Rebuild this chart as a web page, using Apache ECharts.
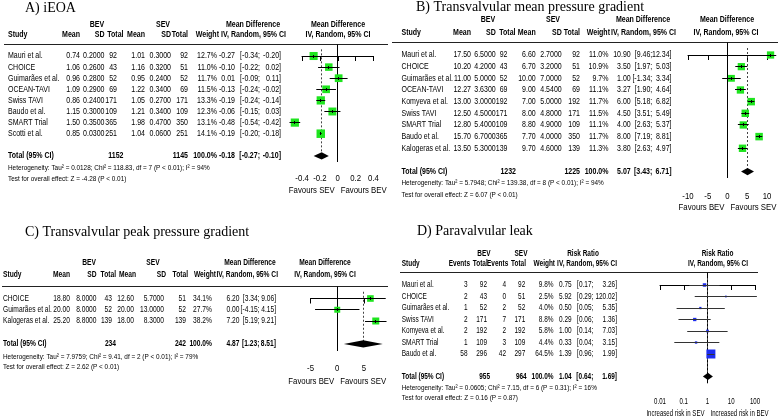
<!DOCTYPE html>
<html lang="en">
<head>
<meta charset="UTF-8">
<title>Forest plots BEV vs SEV</title>
<style>
    html, body { margin: 0; padding: 0; background: #fff; }
    #main { width: 779px; height: 418px; }
</style>
<script src="https://cdn.jsdelivr.net/npm/echarts@6/dist/echarts.min.js"></script>
</head>
<body>
<div id="main"></div>
<script>

// ---------- A) iEOA ----------
var aStudies = ['Mauri et al.', 'CHOICE', 'Guimarães et al.', 'OCEAN-TAVI', 'Swiss TAVI', 'Baudo et al.', 'SMART Trial', 'Scotti et al.'];
var aBevMean = [0.74, 1.06, 0.96, 1.09, 0.86, 1.15, 1.50, 0.85];
var aBevSd = [0.20, 0.26, 0.28, 0.29, 0.24, 0.30, 0.35, 0.03];
var aBevN = [92, 43, 52, 69, 171, 109, 365, 251];
var aSevMean = [1.01, 1.16, 0.95, 1.22, 1.05, 1.21, 1.98, 1.04];
var aSevSd = [0.30, 0.32, 0.24, 0.34, 0.27, 0.34, 0.47, 0.06];
var aSevN = [92, 51, 52, 69, 171, 109, 350, 251];
var aWeight = [12.7, 11.0, 11.7, 11.5, 13.3, 12.3, 13.1, 14.1];
var aMd = [-0.27, -0.10, 0.01, -0.13, -0.19, -0.06, -0.48, -0.19];
var aLo = [-0.34, -0.22, -0.09, -0.24, -0.24, -0.15, -0.54, -0.20];
var aHi = [-0.20, 0.02, 0.11, -0.02, -0.14, 0.03, -0.42, -0.18];
var aTotalN = [1152, 1145];
var aPooled = [-0.18, -0.27, -0.10];
var aTicks = [-0.4, -0.2, 0, 0.2, 0.4];
var aTickLabels = ['-0.4', '-0.2', '0', '0.2', '0.4'];
var aFavours = ['Favours SEV', 'Favours BEV'];
var aHet = 'Heterogeneity: Tau² = 0.0128; Chi² = 118.83, df = 7 (P < 0.01); I² = 94%';
var aTest = 'Test for overall effect: Z = -4.28 (P < 0.01)';

// ---------- B) Transvalvular mean pressure gradient ----------
var bStudies = ['Mauri et al.', 'CHOICE', 'Guimarães et al.', 'OCEAN-TAVI', 'Komyeva et al.', 'Swiss TAVI', 'SMART Trial', 'Baudo et al.', 'Kalogeras et al.'];
var bBevMean = [17.50, 10.20, 11.00, 12.27, 13.00, 12.50, 12.80, 15.70, 13.50];
var bBevSd = [6.50, 4.20, 5.00, 3.63, 3.00, 4.50, 5.40, 6.70, 5.30];
var bBevN = [92, 43, 52, 69, 192, 171, 109, 365, 139];
var bSevMean = [6.60, 6.70, 10.00, 9.00, 7.00, 8.00, 8.80, 7.70, 9.70];
var bSevSd = [2.70, 3.20, 7.00, 4.54, 5.00, 4.80, 4.90, 4.00, 4.60];
var bSevN = [92, 51, 52, 69, 192, 171, 109, 350, 139];
var bWeight = [11.0, 10.9, 9.7, 11.1, 11.7, 11.5, 11.1, 11.7, 11.3];
var bMd = [10.90, 3.50, 1.00, 3.27, 6.00, 4.50, 4.00, 8.00, 3.80];
var bLo = [9.46, 1.97, -1.34, 1.90, 5.18, 3.51, 2.63, 7.19, 2.63];
var bHi = [12.34, 5.03, 3.34, 4.64, 6.82, 5.49, 5.37, 8.81, 4.97];
var bTotalN = [1232, 1225];
var bPooled = [5.07, 3.43, 6.71];
var bTicks = [-10, -5, 0, 5, 10];
var bTickLabels = ['-10', '-5', '0', '5', '10'];
var bFavours = ['Favours BEV', 'Favours SEV'];
var bHet = 'Heterogeneity: Tau² = 5.7948; Chi² = 139.38, df = 8 (P < 0.01); I² = 94%';
var bTest = 'Test for overall effect: Z = 6.07 (P < 0.01)';

// ---------- C) Transvalvular peak pressure gradient ----------
var cStudies = ['CHOICE', 'Guimarães et al.', 'Kalogeras et al.'];
var cBevMean = [18.80, 20.00, 25.20];
var cBevSd = [8.00, 8.00, 8.80];
var cBevN = [43, 52, 139];
var cSevMean = [12.60, 20.00, 18.00];
var cSevSd = [5.70, 13.00, 8.30];
var cSevN = [51, 52, 139];
var cWeight = [34.1, 27.7, 38.2];
var cMd = [6.20, 0.00, 7.20];
var cLo = [3.34, -4.15, 5.19];
var cHi = [9.06, 4.15, 9.21];
var cTotalN = [234, 242];
var cPooled = [4.87, 1.23, 8.51];
var cTicks = [-5, 0, 5];
var cTickLabels = ['-5', '0', '5'];
var cFavours = ['Favours BEV', 'Favours SEV'];
var cHet = 'Heterogeneity: Tau² = 7.9759; Chi² = 9.41, df = 2 (P < 0.01); I² = 79%';
var cTest = 'Test for overall effect: Z = 2.62 (P < 0.01)';

// ---------- D) Paravalvular leak ----------
var dStudies = ['Mauri et al.', 'CHOICE', 'Guimarães et al.', 'Swiss TAVI', 'Komyeva et al.', 'SMART Trial', 'Baudo et al.'];
var dBevEvents = [3, 2, 1, 2, 2, 1, 58];
var dBevN = [92, 43, 52, 171, 192, 109, 296];
var dSevEvents = [4, 0, 2, 7, 2, 3, 42];
var dSevN = [92, 51, 52, 171, 192, 109, 297];
var dWeight = [9.8, 2.5, 4.0, 8.8, 5.8, 4.4, 64.5];
var dRr = [0.75, 5.92, 0.50, 0.29, 1.00, 0.33, 1.39];
var dLo = [0.17, 0.29, 0.05, 0.06, 0.14, 0.04, 0.96];
var dHi = [3.26, 120.02, 5.35, 1.36, 7.03, 3.15, 1.99];
var dTotalN = [955, 964];
var dPooled = [1.04, 0.64, 1.69];
var dTicks = [0.01, 0.1, 1, 10, 100];
var dTickLabels = ['0.01', '0.1', '1', '10', '100'];
var dFavours = ['Increased risk in SEV', 'Increased risk in BEV'];
var dHet = 'Heterogeneity: Tau² = 0.0605; Chi² = 7.15, df = 6 (P = 0.31); I² = 16%';
var dTest = 'Test for overall effect: Z = 0.16 (P = 0.87)';

var FONT = '"Liberation Sans", Arial, sans-serif';
var NORM = '9px ' + FONT;
var BOLD = 'bold 9px ' + FONT;
var SMALL = '8px ' + FONT;
var AXIS = '9.5px ' + FONT;

function mdRows(st, m1, s1, n1, m2, s2, n2, w) {
    return st.map(function (s, i) {
        return [s, m1[i].toFixed(2), s1[i].toFixed(4), n1[i], m2[i].toFixed(2), s2[i].toFixed(4), n2[i], w[i].toFixed(1) + '%'];
    });
}

// sx: horizontal squeeze of table text, axSx: of axis text (the figure is squeezed sideways)
var panels = [
    {
        title: 'A) iEOA', titleX: 25, titleY: 8,
        rows: mdRows(aStudies, aBevMean, aBevSd, aBevN, aSevMean, aSevSd, aSevN, aWeight),
        est: aMd, lo: aLo, hi: aHi, weight: aWeight, totalN: aTotalN, pooled: aPooled,
        ticks: aTicks, tickLabels: aTickLabels, favours: aFavours, het: aHet, test: aTest,
        type: 'value', min: -0.4, max: 0.4, interval: 0.2, nullValue: 0,
        color: '#1ee41e', lineColor: '#000', box: 8.5, cross: true, sx: 0.78, axSx: 0.82,
        x0: 302, x1: 373.5, top: 44, axisY: 162, row0: 56, step: 11.1,
        totalRow: 9, hetRow: 10.05, testRow: 11.05, head1Row: -2.88, head2Row: -1.98,
        tickDy: 16.5, favDy: 28, lineX: [4, 388],
        colX: [8, 80, 104.5, 117, 145, 171, 188, 217], ciX: [235, 260, 281], totX: [123.5, 188],
        head1: [['BEV', 97, 'center'], ['SEV', 163, 'center'], ['Mean Difference', 253, 'center'], ['Mean Difference', 338, 'center']],
        head2: [['Study', 8, 'left'], ['Mean', 80, 'right'], ['SD', 104.5, 'right'], ['Total', 123.5, 'right'], ['Mean', 145, 'right'],
            ['SD', 171, 'right'], ['Total', 188, 'right'], ['Weight', 219, 'right'], ['IV, Random, 95% CI', 286, 'right'], ['IV, Random, 95% CI', 338, 'center']]
    },
    {
        title: 'B) Transvalvular mean pressure gradient', titleX: 416, titleY: 7,
        rows: mdRows(bStudies, bBevMean, bBevSd, bBevN, bSevMean, bSevSd, bSevN, bWeight),
        est: bMd, lo: bLo, hi: bHi, weight: bWeight, totalN: bTotalN, pooled: bPooled,
        ticks: bTicks, tickLabels: bTickLabels, favours: bFavours, het: bHet, test: bTest,
        type: 'value', min: -10, max: 10, interval: 5, nullValue: 0,
        color: '#1ee41e', lineColor: '#000', box: 7.5, cross: true, sx: 0.78, axSx: 0.82,
        x0: 688, x1: 767, top: 42, axisY: 178, row0: 55, step: 11.66,
        totalRow: 10, hetRow: 11, testRow: 11.95, head1Row: -3.06, head2Row: -1.95,
        tickDy: 18.5, favDy: 29, lineX: [392, 778],
        colX: [401.5, 471, 495.7, 507.5, 535.7, 561.7, 580, 608.5], ciX: [630.7, 652.3, 671.5], totX: [516, 580],
        head1: [['BEV', 488, 'center'], ['SEV', 553, 'center'], ['Mean Difference', 643, 'center'], ['Mean Difference', 727, 'center']],
        head2: [['Study', 401.5, 'left'], ['Mean', 471, 'right'], ['SD', 495.7, 'right'], ['Total', 515.5, 'right'], ['Mean', 535.7, 'right'],
            ['SD', 561.7, 'right'], ['Total', 580, 'right'], ['Weight', 610, 'right'], ['IV, Random, 95% CI', 676, 'right'], ['IV, Random, 95% CI', 726, 'center']]
    },
    {
        title: 'C) Transvalvular peak pressure gradient', titleX: 25, titleY: 232,
        rows: mdRows(cStudies, cBevMean, cBevSd, cBevN, cSevMean, cSevSd, cSevN, cWeight),
        est: cMd, lo: cLo, hi: cHi, weight: cWeight, totalN: cTotalN, pooled: cPooled,
        ticks: cTicks, tickLabels: cTickLabels, favours: cFavours, het: cHet, test: cTest,
        type: 'value', min: -5, max: 5, interval: 5, nullValue: 0,
        color: '#1ee41e', lineColor: '#000', box: 7, cross: true, sx: 0.74, axSx: 0.82,
        x0: 310.5, x1: 364, top: 286, axisY: 351, row0: 298.5, step: 11.25,
        totalRow: 4.04, hetRow: 5.2, testRow: 6.1, head1Row: -3.16, head2Row: -2.09,
        tickDy: 17, favDy: 30.5, lineX: [2, 388],
        colX: [3, 70, 96.5, 112, 134, 164, 186, 212], ciX: [239.5, 259.5, 276], totX: [116, 186],
        head1: [['BEV', 89, 'center'], ['SEV', 153, 'center'], ['Mean Difference', 250, 'center'], ['Mean Difference', 325, 'center']],
        head2: [['Study', 3, 'left'], ['Mean', 70, 'right'], ['SD', 96.5, 'right'], ['Total', 116, 'right'], ['Mean', 136, 'right'],
            ['SD', 166, 'right'], ['Total', 188, 'right'], ['Weight', 216, 'right'], ['IV, Random, 95% CI', 278, 'right'], ['IV, Random, 95% CI', 325, 'center']]
    },
    {
        title: 'D) Paravalvular leak', titleX: 417, titleY: 231,
        rows: dStudies.map(function (s, i) {
            return [s, dBevEvents[i], dBevN[i], dSevEvents[i], dSevN[i], dWeight[i].toFixed(1) + '%'];
        }),
        est: dRr, lo: dLo, hi: dHi, weight: dWeight, totalN: dTotalN, pooled: dPooled,
        ticks: dTicks, tickLabels: dTickLabels, favours: dFavours, het: dHet, test: dTest,
        type: 'log', min: 0.01, max: 100, nullValue: 1,
        color: '#1c2cf0', lineColor: '#333', box: 9, cross: false, sx: 0.72, axSx: 0.64,
        x0: 660, x1: 755, top: 272.5, axisY: 383.3, row0: 285, step: 11.5,
        totalRow: 7.95, hetRow: 8.9, testRow: 9.78, head1Row: -2.78, head2Row: -1.87,
        tickDy: 18.4, favDy: 30, lineX: [400, 758],
        colX: [401.7, 467.5, 487, 506, 525.3, 553.5], ciX: [571.7, 593.3, 617], totX: [490, 526.7],
        head1: [['BEV', 484, 'center'], ['SEV', 521, 'center'], ['Risk Ratio', 583, 'center'], ['Risk Ratio', 717.5, 'center']],
        head2: [['Study', 401.7, 'left'], ['Events', 470, 'right'], ['Total', 487.7, 'right'], ['Events', 508.3, 'right'],
            ['Total', 526, 'right'], ['Weight', 555, 'right'], ['IV, Random, 95% CI', 617, 'right'], ['IV, Random, 95% CI', 718, 'center']]
    }
];

function crisp(v) { return Math.round(v - 0.5) + 0.5; }

function textEl(x, y, text, align, font, sx) {
    return {
        type: 'text', x: x, y: y, scaleX: sx,
        style: { text: text, fill: '#000', font: font, textAlign: align, align: align, textVerticalAlign: 'middle', verticalAlign: 'middle' }
    };
}

var grids = [], xAxes = [], yAxes = [], series = [], titles = [];

panels.forEach(function (p, k) {
    var yMin = (p.top - p.row0) / p.step;
    var yMax = (p.axisY - p.row0) / p.step;

    grids.push({ left: p.x0, top: p.top, width: p.x1 - p.x0, height: p.axisY - p.top });
    var xa = {
        gridIndex: k, type: p.type, min: p.min, max: p.max,
        axisLine: { lineStyle: { color: '#000', width: 1 } },
        axisTick: { length: 5, lineStyle: { color: '#000' } },
        axisLabel: { show: false },
        splitLine: { show: false }
    };
    if (p.type === 'log') xa.logBase = 10; else xa.interval = p.interval;
    xAxes.push(xa);
    yAxes.push({ gridIndex: k, type: 'value', inverse: true, min: yMin, max: yMax, show: false });

    // ---- table text
    var items = [];
    function put(text, px, row, align, font) { items.push({ text: String(text), px: px, row: row, align: align, font: font }); }
    p.head1.forEach(function (h) { put(h[0], h[1], p.head1Row, h[2], BOLD); });
    p.head2.forEach(function (h) { put(h[0], h[1], p.head2Row, h[2], BOLD); });
    p.rows.forEach(function (cells, i) {
        cells.forEach(function (c, j) { put(c, p.colX[j], i, j === 0 ? 'left' : 'right', NORM); });
        put(p.est[i].toFixed(2), p.ciX[0], i, 'right', NORM);
        put('[' + p.lo[i].toFixed(2) + ';', p.ciX[1], i, 'right', NORM);
        put(p.hi[i].toFixed(2) + ']', p.ciX[2], i, 'right', NORM);
    });
    put('Total (95% CI)', p.colX[0], p.totalRow, 'left', BOLD);
    put(p.totalN[0], p.totX[0], p.totalRow, 'right', BOLD);
    put(p.totalN[1], p.totX[1], p.totalRow, 'right', BOLD);
    put('100.0%', p.colX[p.colX.length - 1], p.totalRow, 'right', BOLD);
    put(p.pooled[0].toFixed(2), p.ciX[0], p.totalRow, 'right', BOLD);
    put('[' + p.pooled[1].toFixed(2) + ';', p.ciX[1], p.totalRow, 'right', BOLD);
    put(p.pooled[2].toFixed(2) + ']', p.ciX[2], p.totalRow, 'right', BOLD);
    put(p.het, p.colX[0], p.hetRow, 'left', SMALL);
    put(p.test, p.colX[0], p.testRow, 'left', SMALL);

    series.push({
        type: 'custom', xAxisIndex: k, yAxisIndex: k, silent: true, clip: false,
        data: items.map(function (it, i) { return [p.min, it.row, i]; }),
        renderItem: function (params, api) {
            var it = items[api.value(2)];
            var pt = api.coord([p.min, it.row]);
            var s = it.font === SMALL ? 0.8 : p.sx;
            return textEl(it.px, pt[1], it.text, it.align, it.font, s);
        }
    });

    // ---- tick labels and "favours" labels, placed through the x axis
    series.push({
        type: 'custom', xAxisIndex: k, yAxisIndex: k, silent: true, clip: false,
        data: p.ticks.map(function (t, i) { return [t, yMax, i]; }).concat([[p.nullValue, yMax, -1], [p.nullValue, yMax, -2]]),
        renderItem: function (params, api) {
            var idx = api.value(2);
            var pt = api.coord([api.value(0), api.value(1)]);
            if (idx >= 0) return textEl(pt[0], pt[1] + p.tickDy, p.tickLabels[idx], 'center', AXIS, p.axSx);
            if (idx === -1) return textEl(pt[0] - 3, pt[1] + p.favDy, p.favours[0], 'right', AXIS, p.axSx);
            return textEl(pt[0] + 3, pt[1] + p.favDy, p.favours[1], 'left', AXIS, p.axSx);
        }
    });

    // ---- header rule, line of no effect, pooled dotted line
    series.push({
        type: 'custom', xAxisIndex: k, yAxisIndex: k, silent: true, clip: false,
        data: [[p.nullValue, yMin]],
        renderItem: function (params, api) {
            var t = api.coord([p.nullValue, yMin]);
            var b = api.coord([p.nullValue, yMax]);
            var dt = api.coord([p.pooled[0], -0.6]);
            var db = api.coord([p.pooled[0], p.totalRow]);
            var yr = crisp(t[1]);
            return {
                type: 'group', children: [
                    { type: 'line', shape: { x1: p.lineX[0], y1: yr, x2: p.lineX[1], y2: yr }, style: { stroke: '#222', lineWidth: 1 } },
                    { type: 'line', shape: { x1: crisp(t[0]), y1: yr, x2: crisp(t[0]), y2: b[1] }, style: { stroke: '#000', lineWidth: 1 } },
                    { type: 'line', shape: { x1: crisp(dt[0]), y1: dt[1], x2: crisp(dt[0]), y2: db[1] }, style: { stroke: '#444', lineWidth: 1, lineDash: [2, 2] } }
                ]
            };
        }
    });

    // ---- study estimates: weighted squares with confidence intervals
    var wMax = Math.max.apply(null, p.weight);
    series.push({
        type: 'custom', xAxisIndex: k, yAxisIndex: k, silent: true, clip: false,
        data: p.est.map(function (e, i) { return [e, i, p.lo[i], p.hi[i], p.weight[i]]; }),
        renderItem: function (params, api) {
            var c = api.coord([api.value(0), api.value(1)]);
            var l = api.coord([api.value(2), api.value(1)]);
            var h = api.coord([api.value(3), api.value(1)]);
            var s = Math.max(1.6, p.box * Math.sqrt(api.value(4) / wMax));
            var y = crisp(c[1]);
            var kids = [
                { type: 'rect', shape: { x: c[0] - s / 2, y: c[1] - s / 2, width: s, height: s }, style: { fill: p.color } },
                { type: 'line', shape: { x1: l[0], y1: y, x2: h[0], y2: y }, style: { stroke: p.lineColor, lineWidth: 1 } }
            ];
            if (p.cross) {
                kids.push({ type: 'line', shape: { x1: crisp(c[0]), y1: y - 1.5, x2: crisp(c[0]), y2: y + 1.5 }, style: { stroke: '#000', lineWidth: 1 } });
            }
            return { type: 'group', children: kids };
        }
    });

    // ---- pooled diamond
    series.push({
        type: 'custom', xAxisIndex: k, yAxisIndex: k, silent: true, clip: false,
        data: [[p.pooled[0], p.totalRow, p.pooled[1], p.pooled[2]]],
        renderItem: function (params, api) {
            var c = api.coord([api.value(0), api.value(1)]);
            var l = api.coord([api.value(2), api.value(1)]);
            var h = api.coord([api.value(3), api.value(1)]);
            return {
                type: 'polygon',
                shape: { points: [[l[0], c[1]], [c[0], c[1] - 3.6], [h[0], c[1]], [c[0], c[1] + 3.6]] },
                style: { fill: '#000' }
            };
        }
    });

    titles.push({
        type: 'text', x: p.titleX, y: p.titleY, silent: true,
        style: { text: p.title, fill: '#000', font: '14px "Liberation Serif", "Times New Roman", serif', textAlign: 'left', align: 'left', textVerticalAlign: 'middle', verticalAlign: 'middle' }
    });
});

var chartDom = document.getElementById('main');
var myChart = echarts.init(chartDom);
var option = {
    animation: false,
    backgroundColor: '#fff',
    grid: grids,
    xAxis: xAxes,
    yAxis: yAxes,
    series: series,
    graphic: titles
};
option && myChart.setOption(option);

</script>
</body>
</html>
